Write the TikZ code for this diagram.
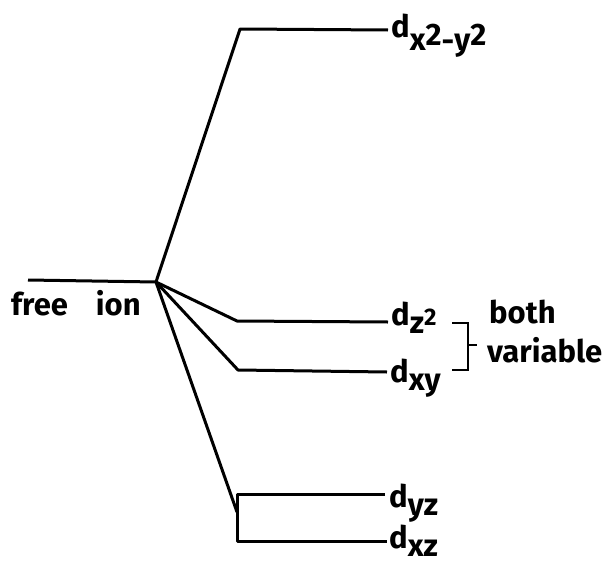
\documentclass[tikz,border=0pt]{standalone}
\usepackage{fontspec}
\setmainfont{Fira Sans}
\newcommand\lowr[2]{\raisebox{#1}{#2}}
\begin{document}
\begin{tikzpicture}[x=1pt,y=-1pt,
  lvl/.style={line width=3pt, line join=round},
  brk/.style={line width=2.6pt, line join=miter},
  lab/.style={anchor=base west, inner sep=0pt, font=\fontsize{31}{33}\selectfont\bfseries}]
\useasboundingbox (0,0) rectangle (603,565);
% level points
\coordinate (fl) at (28,280);
\coordinate (br) at (156,282);
\coordinate (t1) at (240,29);
\coordinate (t2) at (388,30);
\coordinate (z1) at (237,321);
\coordinate (z2) at (388,322);
\coordinate (x1) at (238,370);
\coordinate (x2) at (387,372);
\coordinate (bm) at (237,512);
\coordinate (y1) at (237,494);
\coordinate (y2) at (385,494);
\coordinate (c1) at (237,541);
\coordinate (c2) at (387,541);
% connectors
\draw[lvl] (fl) -- (br);
\draw[lvl] (br) -- (t1) -- (t2);
\draw[lvl] (br) -- (z1) -- (z2);
\draw[lvl] (br) -- (x1) -- (x2);
\draw[lvl] (br) -- (bm);
\draw[lvl] (y2) -- (y1) -- (c1) -- (c2);
% labels
\node[lab] (free) at (11,315) {free\hspace{28pt}ion};
\node[lab] (lx2y2) at (391,37) {d\lowr{-13pt}{x}\lowr{-8pt}{2}\lowr{-14pt}{-}\lowr{-13pt}{y}\lowr{-8pt}{2}};
\node[lab] (lz2) at (391,325) {d\lowr{-8pt}{z}{\fontsize{24}{26}\selectfont 2}};
\node[lab] (lxy) at (390,382) {d\lowr{-8pt}{xy}};
\node[lab] (lyz) at (389,507) {d\lowr{-8pt}{yz}};
\node[lab] (lxz) at (389,548) {d\lowr{-8pt}{xz}};
% bracket
\coordinate (b1) at (452,323);
\coordinate (b2) at (468,323);
\coordinate (b3) at (468,370);
\coordinate (b4) at (452,370);
\coordinate (bmid) at (468,345);
\coordinate (btip) at (477,345);
\draw[brk] (b1) -- (b2) -- (b3) -- (b4);
\draw[brk] (bmid) -- (btip);
\node[lab] (both) at (489,323) {both};
\node[lab] (var) at (487,362) {variable};
\end{tikzpicture}
\end{document}
